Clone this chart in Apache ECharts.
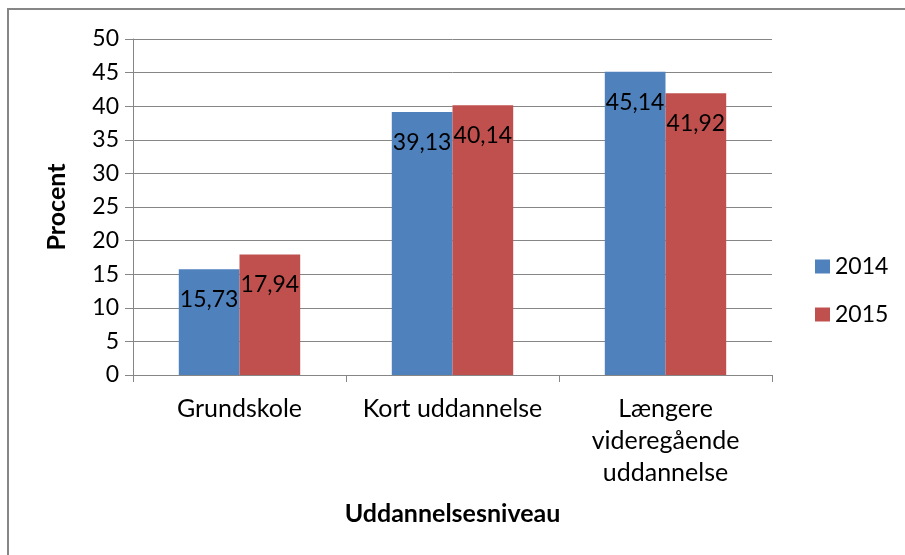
<!DOCTYPE html>
<html>
<head>
<meta charset="utf-8">
<script src="https://cdn.jsdelivr.net/npm/echarts@6/dist/echarts.min.js"></script>
<style>
html,body{margin:0;padding:0;background:#fff;}
#c{width:905px;height:555px;}
</style>
</head>
<body>
<div id="c"></div>
<script>
var categories = ['Grundskole', 'Kort uddannelse', 'Længere\nvideregående\nuddannelse'];
var seriesNames = ['2014', '2015'];
var values2014 = [15.73, 39.13, 45.14];
var values2015 = [17.94, 40.14, 41.92];
var colors = ['#4F81BD', '#C0504D'];

var FONT = 'Lato';
var chart = echarts.init(document.getElementById('c'));
function lbl(p){ return String(p.value.toFixed(2)).replace('.', ','); }
function mkSeries(name, data, color){
  return {
    name: name, type: 'bar', data: data,
    barGap: '0%', barCategoryGap: '43%',
    itemStyle: {color: color},
    label: {show: true, position: 'insideTop', distance: 19, formatter: lbl,
      color: '#000', fontFamily: FONT, fontSize: 23},
    emphasis: {disabled: true}
  };
}
chart.setOption({
  animation: false,
  textStyle: {fontFamily: FONT},
  graphic: [{type: 'rect', shape: {x: 8, y: 9, width: 1200, height: 1200},
    style: {fill: 'none', stroke: '#868686', lineWidth: 2}, silent: true}],
  grid: {left: 133, right: 133, top: 39, bottom: 180, containLabel: false},
  legend: {
    orient: 'vertical', left: 810, top: 250, itemWidth: 15, itemHeight: 14,
    itemGap: 25, icon: 'rect',
    textStyle: {fontFamily: FONT, fontSize: 23, color: '#000', lineHeight: 23},
    data: seriesNames
  },
  xAxis: {
    type: 'category', data: categories,
    name: 'Uddannelsesniveau', nameLocation: 'middle', nameGap: 126,
    nameTextStyle: {fontFamily: FONT, fontSize: 25, fontWeight: 'bold', color: '#000'},
    axisLine: {lineStyle: {color: '#868686', width: 1}},
    axisTick: {show: true, length: 7, lineStyle: {color: '#868686'}},
    axisLabel: {color: '#000', fontFamily: FONT, fontSize: 25, lineHeight: 32, margin: 18, interval: 0}
  },
  yAxis: {
    type: 'value', min: 0, max: 50, interval: 5,
    name: 'Procent', nameLocation: 'middle', nameGap: 64, nameRotate: 90,
    nameTextStyle: {fontFamily: FONT, fontSize: 25, fontWeight: 'bold', color: '#000'},
    axisLine: {show: true, lineStyle: {color: '#868686', width: 1}},
    axisTick: {show: true, length: 8, lineStyle: {color: '#868686'}},
    splitLine: {show: true, lineStyle: {color: '#868686', width: 1}},
    axisLabel: {color: '#000', fontFamily: FONT, fontSize: 23, margin: 14}
  },
  series: [mkSeries(seriesNames[0], values2014, colors[0]), mkSeries(seriesNames[1], values2015, colors[1])]
});
</script>
</body>
</html>
